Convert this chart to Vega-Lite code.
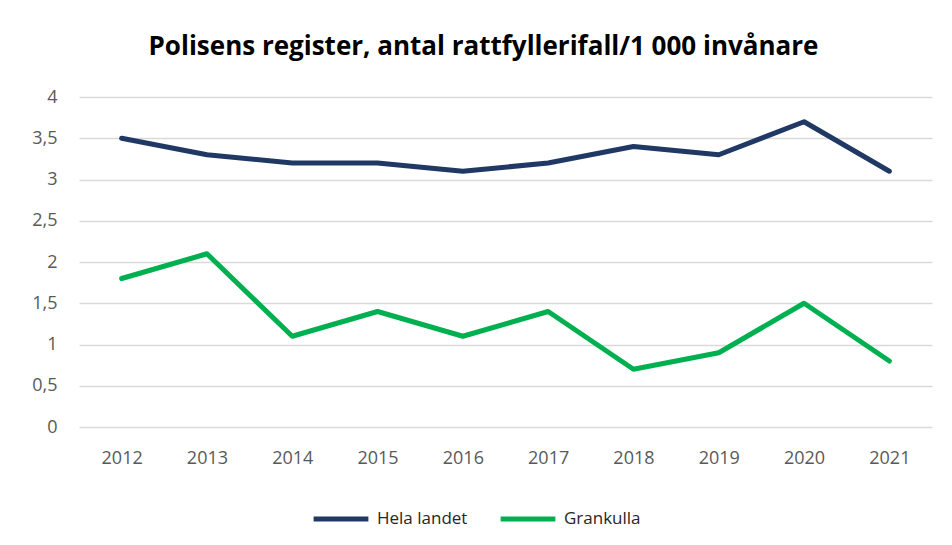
{
  "$schema": "https://vega.github.io/schema/vega-lite/v6.json",
  "autosize": "none",
  "width": 853,
  "height": 330,
  "padding": {"left": 79, "top": 97, "right": 20, "bottom": 118},
  "background": "white",
  "title": {
    "text": "Polisens register, antal rattfyllerifall/1 000 invånare",
    "font": "Open Sans",
    "fontSize": 26,
    "fontWeight": "bold",
    "color": "#000000",
    "anchor": "middle",
    "dx": -22,
    "offset": 28
  },
  "data": {
    "values": [
      {"year": "2012", "series": "Hela landet", "value": 3.5},
      {"year": "2013", "series": "Hela landet", "value": 3.3},
      {"year": "2014", "series": "Hela landet", "value": 3.2},
      {"year": "2015", "series": "Hela landet", "value": 3.2},
      {"year": "2016", "series": "Hela landet", "value": 3.1},
      {"year": "2017", "series": "Hela landet", "value": 3.2},
      {"year": "2018", "series": "Hela landet", "value": 3.4},
      {"year": "2019", "series": "Hela landet", "value": 3.3},
      {"year": "2020", "series": "Hela landet", "value": 3.7},
      {"year": "2021", "series": "Hela landet", "value": 3.1},
      {"year": "2012", "series": "Grankulla", "value": 1.8},
      {"year": "2013", "series": "Grankulla", "value": 2.1},
      {"year": "2014", "series": "Grankulla", "value": 1.1},
      {"year": "2015", "series": "Grankulla", "value": 1.4},
      {"year": "2016", "series": "Grankulla", "value": 1.1},
      {"year": "2017", "series": "Grankulla", "value": 1.4},
      {"year": "2018", "series": "Grankulla", "value": 0.7},
      {"year": "2019", "series": "Grankulla", "value": 0.9},
      {"year": "2020", "series": "Grankulla", "value": 1.5},
      {"year": "2021", "series": "Grankulla", "value": 0.8}
    ]
  },
  "mark": {"type": "line", "strokeWidth": 5, "strokeJoin": "round", "strokeCap": "round"},
  "encoding": {
    "x": {
      "field": "year",
      "type": "ordinal",
      "scale": {"type": "point", "padding": 0.5},
      "axis": {
        "title": null,
        "labelAngle": 0,
        "domain": false,
        "ticks": false,
        "grid": false,
        "labelFont": "Open Sans",
        "labelFontSize": 18,
        "labelColor": "#595959",
        "labelPadding": 22
      }
    },
    "y": {
      "field": "value",
      "type": "quantitative",
      "scale": {"domain": [0, 4], "nice": false},
      "axis": {
        "title": null,
        "values": [0, 0.5, 1, 1.5, 2, 2.5, 3, 3.5, 4],
        "labelExpr": "replace(format(datum.value, '~g'), '.', ',')",
        "domain": false,
        "ticks": false,
        "grid": true,
        "gridColor": "#d9d9d9",
        "gridWidth": 1.5,
        "labelFont": "Open Sans",
        "labelFontSize": 18,
        "labelColor": "#595959",
        "labelPadding": 22
      }
    },
    "color": {
      "field": "series",
      "type": "nominal",
      "scale": {"domain": ["Hela landet", "Grankulla"], "range": ["#203864", "#00b050"]},
      "legend": {
        "title": null,
        "orient": "none",
        "direction": "horizontal",
        "legendX": 232,
        "legendY": 392,
        "symbolType": "stroke",
        "symbolSize": 3000,
        "symbolStrokeWidth": 5,
        "labelFont": "Open Sans",
        "labelFontSize": 17,
        "labelColor": "#262626",
        "columnPadding": 22,
        "labelOffset": 6
      }
    }
  },
  "config": {"view": {"stroke": null}}
}
